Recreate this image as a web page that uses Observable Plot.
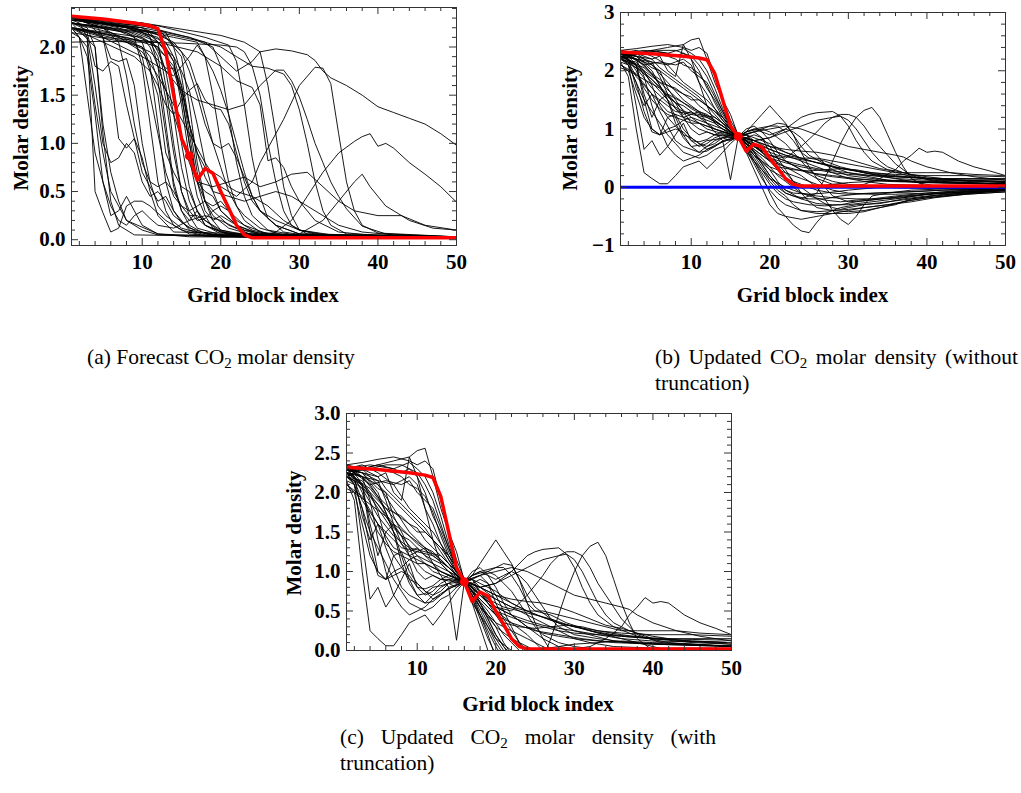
<!DOCTYPE html>
<html>
<head>
<meta charset="utf-8">
<script src="https://cdn.jsdelivr.net/npm/d3@7"></script>
<script src="https://cdn.jsdelivr.net/npm/@observablehq/plot@0.6"></script>
<style>
  body { margin: 0; background: #fff; }
  #root { position: relative; width: 1021px; height: 793px; background: #fff; overflow: hidden; }
  .lbl { position: absolute; font-family: "Liberation Serif", "Times New Roman", serif; font-weight: bold; font-size: 21px; white-space: nowrap; transform: translate(-50%, -50%); color: #000; }
  .ylbl { transform: translate(-50%, -50%) rotate(-90deg); }
  .cap { position: absolute; font-family: "Liberation Serif", "Times New Roman", serif; font-size: 21.5px; line-height: 26px; white-space: nowrap; color: #000; }
  .cap sub { font-size: 0.7em; line-height: 0; vertical-align: -0.25em; }
  .just { display: flex; justify-content: space-between; }
</style>
</head>
<body>
<div id="root"></div>
<script>
// ---------------- data ----------------
const xMajor = [10, 20, 30, 40, 50];
const xMinor = [2, 4, 6, 8, 12, 14, 16, 18, 22, 24, 26, 28, 32, 34, 36, 38, 42, 44, 46, 48];
const aYTicks = [0, 0.5, 1, 1.5, 2];
const bYTicks = [-1, 0, 1, 2, 3];
const cYTicks = [0, 0.5, 1, 1.5, 2, 2.5, 3];

// true (reference) CO2 molar density profile, red
const trueProfile = [[1,2.32],[5,2.29],[9,2.25],[11,2.22],[12,2.19],[13,1.95],[14,1.5],[15,1.05],[16,0.87],[17,0.62],[18,0.74],[19,0.69],[20,0.5],[21,0.33],[22,0.15],[23,0.05],[24,0.02],[30,0.02],[40,0.02],[50,0.02]];
// observation point
const observation = [16, 0.87];

// forecast ensemble members (panel a)
const forecastMembers = [
  [[1,2.28],[2,2.25],[3,2.1],[4,0.5],[5,0.28],[6,0.08],[7,0.12],[8,0.35],[9,0.4],[10,0.4],[11,0.35],[13,0.2],[15,0.1],[18,0.04],[30,0.02],[50,0.02]],
  [[1,2.2],[2,2.1],[3,1.5],[4,0.9],[5,0.6],[6,0.25],[7,0.3],[8,0.45],[9,0.3],[10,0.15],[12,0.06],[16,0.03],[50,0.02]],
  [[1,2.25],[3,2.2],[4,2.0],[5,1.2],[6,0.7],[7,0.4],[8,0.2],[10,0.1],[12,0.05],[50,0.02]],
  [[1,2.3],[3,2.25],[5,2.1],[6,1.7],[7,1.05],[8,0.95],[9,1.05],[10,0.85],[11,0.5],[12,0.25],[14,0.08],[50,0.02]],
  [[1,2.3],[4,2.25],[5,2.1],[6,1.88],[7,1.85],[8,1.88],[9,1.6],[10,1.0],[11,0.6],[12,0.35],[13,0.25],[15,0.12],[18,0.05],[50,0.02]],
  [[1,2.2],[3,2.15],[4,1.8],[5,1.75],[6,1.85],[7,1.8],[8,1.4],[9,1.05],[10,0.7],[11,0.55],[12,0.4],[13,0.45],[14,0.3],[16,0.1],[20,0.03],[50,0.02]],
  [[1,2.15],[2,2.1],[3,1.9],[4,1.3],[5,0.6],[6,0.35],[7,0.2],[8,0.15],[9,0.25],[10,0.3],[11,0.22],[12,0.15],[14,0.12],[16,0.2],[17,0.3],[18,0.2],[20,0.08],[23,0.03],[50,0.02]],
  [[1,2.2],[3,2.1],[4,1.6],[5,1.0],[6,0.8],[7,0.85],[8,1.0],[9,0.9],[10,0.6],[11,0.45],[12,0.5],[13,0.4],[14,0.25],[16,0.12],[19,0.05],[50,0.02]],
  [[1,2.3],[5,2.2],[7,2.05],[8,1.7],[9,1.2],[10,0.8],[11,0.6],[12,0.55],[13,0.6],[14,0.5],[15,0.35],[16,0.25],[17,0.25],[18,0.2],[20,0.1],[24,0.04],[50,0.02]],
  [[1,2.3],[6,2.2],[9,2.1],[10,1.8],[11,1.2],[12,0.6],[13,0.3],[14,0.15],[16,0.06],[20,0.03],[50,0.02]],
  [[1,2.25],[8,2.15],[10,2.05],[11,1.8],[12,1.2],[13,0.6],[14,0.3],[15,0.18],[17,0.08],[22,0.03],[50,0.02]],
  [[1,2.2],[7,2.1],[10,2.0],[11,1.75],[12,1.5],[13,0.9],[14,0.7],[15,0.55],[16,0.5],[17,0.3],[18,0.15],[20,0.06],[50,0.02]],
  [[1,2.3],[9,2.2],[11,2.1],[12,1.8],[13,1.2],[14,0.6],[15,0.3],[16,0.15],[18,0.06],[24,0.03],[50,0.02]],
  [[1,2.28],[10,2.2],[12,2.05],[13,1.6],[14,1.0],[15,0.5],[16,0.25],[17,0.12],[20,0.05],[50,0.02]],
  [[1,2.2],[10,2.1],[12,2.0],[13,1.75],[14,1.3],[15,0.75],[16,0.4],[17,0.22],[18,0.15],[20,0.08],[25,0.03],[50,0.02]],
  [[1,2.25],[11,2.15],[13,1.95],[14,1.6],[15,1.0],[16,0.55],[17,0.3],[18,0.15],[21,0.05],[50,0.02]],
  [[1,2.3],[12,2.15],[14,1.85],[15,1.4],[16,0.85],[17,0.45],[18,0.25],[19,0.12],[22,0.04],[50,0.02]],
  [[1,2.2],[11,2.05],[13,1.9],[14,1.75],[15,1.5],[16,1.0],[17,0.6],[18,0.4],[19,0.35],[20,0.4],[21,0.3],[23,0.15],[26,0.06],[50,0.02]],
  [[1,2.3],[12,2.2],[15,1.9],[16,1.4],[17,0.8],[18,0.4],[19,0.2],[20,0.1],[23,0.04],[50,0.02]],
  [[1,2.15],[8,2.05],[11,1.95],[13,1.78],[14,1.78],[15,1.6],[16,1.1],[17,0.6],[18,0.3],[19,0.2],[20,0.25],[21,0.2],[23,0.1],[27,0.04],[50,0.02]],
  [[1,2.25],[8,2.15],[11,2.05],[12,1.9],[13,1.45],[14,0.9],[15,0.5],[16,0.3],[17,0.35],[18,0.4],[19,0.3],[21,0.15],[24,0.05],[50,0.02]],
  [[1,2.2],[6,2.1],[10,2.0],[11,1.9],[12,1.65],[13,1.1],[14,0.55],[15,0.3],[16,0.2],[18,0.25],[20,0.2],[22,0.12],[25,0.05],[50,0.02]],
  [[1,2.32],[10,2.25],[13,2.15],[14,2.0],[15,1.7],[16,1.2],[17,0.7],[18,0.4],[19,0.25],[21,0.12],[24,0.05],[50,0.02]],
  [[1,2.25],[9,2.15],[12,2.05],[14,1.9],[15,1.75],[16,1.55],[17,1.2],[18,0.8],[19,0.5],[20,0.3],[22,0.15],[25,0.06],[50,0.02]],
  [[1,2.25],[6,2.15],[9,2.05],[10,1.9],[11,1.5],[12,1.1],[13,0.7],[14,0.45],[15,0.35],[16,0.3],[17,0.2],[18,0.22],[19,0.3],[20,0.35],[21,0.3],[22,0.2],[24,0.1],[27,0.04],[50,0.02]],
  [[1,2.3],[7,2.2],[10,2.1],[11,2.0],[12,1.8],[13,1.55],[14,1.3],[15,1.05],[16,0.8],[17,0.6],[18,0.5],[19,0.45],[20,0.3],[22,0.15],[25,0.05],[50,0.02]],
  [[1,2.3],[10,2.2],[14,2.05],[16,1.85],[17,1.6],[18,1.3],[19,1.0],[20,0.75],[21,0.5],[22,0.35],[23,0.25],[25,0.12],[28,0.05],[50,0.02]],
  [[1,2.2],[8,2.1],[12,2.0],[14,1.8],[15,1.55],[16,1.2],[17,0.9],[18,0.75],[19,0.7],[20,0.65],[21,0.55],[22,0.5],[24,0.45],[26,0.35],[28,0.2],[30,0.1],[34,0.04],[50,0.02]],
  [[1,2.28],[9,2.2],[13,2.1],[15,1.95],[16,1.75],[17,1.5],[18,1.2],[19,1.0],[20,0.95],[21,1.0],[22,0.85],[23,0.65],[24,0.45],[25,0.3],[27,0.15],[30,0.06],[50,0.02]],
  [[1,2.25],[10,2.15],[13,2.05],[14,1.9],[15,1.6],[16,1.2],[17,0.9],[18,0.65],[19,0.5],[21,0.45],[23,0.4],[25,0.45],[27,0.5],[29,0.45],[31,0.35],[33,0.25],[35,0.15],[38,0.08],[42,0.05],[50,0.03]],
  [[1,2.2],[5,2.05],[9,1.9],[11,1.75],[12,1.6],[13,1.4],[14,1.3],[15,1.45],[16,1.55],[17,1.62],[18,1.45],[19,1.37],[20,1.35],[21,1.2],[22,0.9],[23,0.6],[24,0.4],[25,0.3],[27,0.2],[30,0.1],[35,0.04],[50,0.02]],
  [[1,2.3],[8,2.2],[11,2.1],[12,1.95],[13,1.75],[14,1.7],[15,1.8],[16,1.9],[17,2.02],[18,1.9],[19,1.75],[20,1.55],[21,1.3],[22,1.0],[23,0.7],[24,0.45],[25,0.3],[27,0.15],[30,0.06],[50,0.02]],
  [[1,2.3],[8,2.2],[14,2.1],[17,2.05],[18,1.9],[19,1.5],[20,1.0],[21,0.6],[22,0.35],[23,0.2],[25,0.08],[30,0.03],[50,0.02]],
  [[1,2.28],[10,2.2],[16,2.1],[19,2.0],[20,1.8],[21,1.3],[22,0.8],[23,0.45],[24,0.25],[26,0.1],[30,0.04],[50,0.02]],
  [[1,2.3],[12,2.22],[18,2.1],[21,2.02],[22,1.85],[23,1.4],[24,0.85],[25,0.45],[26,0.22],[28,0.08],[32,0.03],[50,0.02]],
  [[1,2.05],[5,2.06],[10,2.05],[15,2.04],[20,2.02],[22,2.0],[23,1.95],[24,1.8],[25,1.5],[26,1.0],[27,0.6],[28,0.3],[29,0.15],[31,0.06],[50,0.03]],
  [[1,2.3],[10,2.25],[20,2.12],[23,2.05],[25,1.95],[26,1.6],[27,1.1],[28,0.55],[29,0.25],[30,0.1],[33,0.04],[50,0.02]],
  [[1,2.2],[5,2.1],[12,2.05],[17,1.95],[20,1.8],[22,1.65],[24,1.58],[25,1.4],[26,0.82],[27,0.85],[28,0.75],[29,0.55],[30,0.4],[32,0.2],[35,0.08],[40,0.04],[50,0.02]],
  [[1,2.25],[5,2.1],[10,1.9],[13,1.75],[15,1.55],[17,1.45],[19,1.4],[21,1.35],[23,1.4],[25,1.6],[27,1.76],[28,1.76],[29,1.65],[30,1.48],[31,1.25],[32,1.0],[33,0.8],[34,0.6],[35,0.45],[36,0.32],[38,0.14],[41,0.06],[50,0.03]],
  [[1,2.3],[5,2.2],[10,1.95],[12,1.7],[14,1.4],[16,1.1],[18,0.8],[20,0.55],[22,0.45],[24,0.6],[25,0.8],[27,1.1],[28,1.25],[30,1.6],[32,1.79],[33,1.78],[34,1.62],[35,1.1],[36,0.6],[37,0.3],[38,0.15],[40,0.07],[50,0.03]],
  [[1,2.3],[8,2.2],[14,2.12],[18,2.05],[20,1.9],[22,1.75],[24,1.85],[25,1.95],[27,1.98],[29,1.96],[31,1.92],[32,1.86],[33,1.75],[34,1.68],[36,1.6],[38,1.5],[40,1.38],[42,1.32],[44,1.26],[46,1.2],[48,1.1],[50,0.98]],
  [[1,2.28],[10,2.22],[16,2.1],[20,2.0],[22,1.9],[24,1.8],[26,1.78],[28,1.72],[29,1.6],[30,1.35],[31,1.0],[32,0.6],[33,0.3],[34,0.15],[36,0.06],[50,0.03]],
  [[1,2.2],[3,2.0],[4,1.4],[5,0.9],[6,0.5],[8,0.2],[12,0.06],[20,0.03],[25,0.04],[27,0.08],[29,0.2],[31,0.45],[33,0.7],[35,0.9],[37,1.02],[38,1.07],[39,1.1],[40,0.97],[41,1.0],[42,0.95],[44,0.8],[46,0.68],[48,0.55],[50,0.39]],
  [[1,2.25],[4,2.0],[5,1.1],[6,0.4],[7,0.15],[9,0.05],[25,0.03],[30,0.06],[33,0.2],[35,0.4],[37,0.6],[38,0.68],[39,0.55],[41,0.35],[44,0.2],[47,0.12],[50,0.1]],
  [[1,2.3],[8,2.2],[12,2.1],[14,1.85],[15,1.5],[16,1.0],[17,0.6],[19,0.55],[21,0.6],[23,0.65],[25,0.55],[27,0.6],[29,0.68],[31,0.7],[33,0.55],[35,0.4],[37,0.3],[40,0.25],[43,0.25],[46,0.15],[50,0.1]]
];

// updated ensemble members: left part (x = 1..16) and right part (x = 16..50)
const updatedLeft = [
  [[1,2.3],[3,2.3],[5,2.35],[7,2.4],[9,2.45],[10,2.53],[11,2.56],[12,2.2],[13,1.8],[14,1.5],[15,1.25],[16,0.88]],
  [[1,2.35],[3,2.38],[5,2.42],[7,2.45],[9,2.4],[10,2.35],[11,2.4],[12,2.3],[13,1.9],[14,1.5],[15,1.15],[16,0.9]],
  [[1,2.3],[4,2.35],[7,2.3],[9,2.38],[10,2.3],[11,2.2],[12,2.0],[13,1.7],[14,1.35],[15,1.05],[16,0.88]],
  [[1,2.2],[2,2.25],[4,2.1],[6,2.15],[8,2.1],[9,2.15],[10,2.0],[12,1.8],[13,1.55],[14,1.3],[15,1.05],[16,0.87]],
  [[1,2.3],[2,2.2],[4,2.0],[6,1.8],[8,1.55],[10,1.35],[12,1.2],[14,1.05],[16,0.87]],
  [[1,2.25],[3,2.1],[5,1.85],[7,1.6],[9,1.45],[11,1.3],[13,1.15],[15,0.95],[16,0.87]],
  [[1,2.2],[3,2.05],[5,1.7],[7,1.45],[9,1.3],[11,1.25],[13,1.2],[15,1.0],[16,0.88]],
  [[1,2.15],[2,1.9],[3,1.0],[4,0.25],[5,0.15],[6,0.06],[7,0.06],[8,0.2],[9,0.35],[10,0.4],[11,0.45],[12,0.32],[13,0.45],[14,0.6],[15,0.75],[16,0.87]],
  [[1,2.25],[2,2.1],[3,1.4],[4,0.65],[5,0.8],[6,0.55],[7,0.7],[8,0.9],[9,1.1],[10,0.8],[11,0.7],[12,0.75],[13,0.85],[14,0.9],[15,0.85],[16,0.87]],
  [[1,2.3],[3,2.2],[4,1.9],[5,1.4],[6,1.0],[7,0.7],[8,0.55],[9,0.45],[10,0.5],[11,0.55],[12,0.65],[13,0.7],[14,0.78],[16,0.87]],
  [[1,2.25],[3,2.2],[5,2.1],[7,1.8],[9,1.5],[11,1.3],[12,1.1],[13,0.95],[14,0.8],[15,0.13],[16,0.87]],
  [[1,2.1],[2,2.0],[3,1.6],[4,1.2],[5,1.0],[6,0.9],[7,1.2],[8,1.25],[9,1.0],[10,0.85],[11,0.75],[12,0.7],[13,0.8],[14,0.85],[16,0.87]],
  [[1,2.3],[3,2.25],[5,2.0],[7,1.5],[8,1.2],[9,0.9],[10,0.7],[11,0.6],[12,0.62],[13,0.7],[14,0.8],[16,0.87]],
  [[1,2.2],[3,2.3],[5,2.2],[6,2.25],[7,2.0],[8,1.9],[9,2.45],[10,2.2],[11,1.8],[12,1.4],[13,1.1],[14,1.0],[15,0.95],[16,0.87]],
  [[1,2.35],[3,2.2],[5,1.95],[7,1.75],[9,1.6],[10,1.55],[11,1.4],[12,1.3],[13,1.2],[14,1.1],[15,0.95],[16,0.87]],
  [[1,2.2],[2,2.15],[3,1.9],[4,1.75],[5,1.6],[6,1.5],[7,1.4],[8,1.3],[9,1.28],[10,1.25],[12,1.2],[14,1.05],[16,0.87]],
  [[1,2.28],[3,2.25],[5,2.2],[6,2.05],[7,1.95],[8,1.85],[9,1.75],[10,1.65],[11,1.55],[12,1.4],[13,1.25],[14,1.1],[15,1.0],[16,0.88]],
  [[1,2.25],[2,2.2],[3,1.7],[4,1.4],[5,1.6],[6,1.3],[7,1.05],[8,0.8],[9,0.7],[10,0.65],[11,0.6],[12,0.7],[13,0.75],[14,0.85],[15,0.8],[16,0.87]],
  [[1,2.3],[2,2.25],[3,2.1],[4,1.5],[5,1.0],[6,0.9],[7,0.95],[8,1.0],[9,0.95],[10,0.8],[11,0.78],[12,0.82],[13,0.9],[14,0.95],[16,0.87]],
  [[1,2.05],[2,2.0],[4,1.85],[6,1.7],[8,1.45],[10,1.2],[12,1.0],[14,0.92],[16,0.87]],
  [[1,2.3],[3,2.28],[5,2.3],[7,2.25],[8,2.2],[9,2.1],[10,2.05],[11,1.95],[12,1.75],[13,1.45],[14,1.2],[15,1.0],[16,0.88]],
  [[1,2.25],[3,2.2],[5,2.15],[7,2.1],[8,2.15],[9,2.2],[10,2.1],[11,1.8],[12,1.6],[13,1.35],[14,1.15],[15,0.98],[16,0.87]],
  [[1,2.3],[2,2.2],[4,1.95],[6,1.65],[8,1.35],[9,1.25],[10,1.3],[11,1.2],[12,1.1],[13,1.0],[14,0.95],[16,0.87]],
  [[1,2.2],[3,2.1],[4,1.6],[5,1.2],[6,1.5],[7,1.6],[8,1.45],[9,1.2],[10,1.0],[11,0.9],[12,0.95],[13,0.9],[14,0.88],[16,0.87]],
  [[1,2.35],[3,2.3],[5,2.1],[7,1.9],[9,1.7],[11,1.5],[13,1.3],[15,1.0],[16,0.87]],
  [[1,2.25],[4,2.05],[6,1.8],[8,1.7],[10,1.5],[11,1.5],[12,1.4],[13,1.3],[14,1.2],[15,1.05],[16,0.87]],
  [[1,2.1],[3,1.95],[5,1.6],[7,1.3],[9,1.2],[11,1.1],[13,1.0],[15,0.92],[16,0.87]],
  [[1,2.3],[3,2.25],[5,2.05],[6,2.0],[7,1.7],[8,1.5],[9,1.3],[10,1.1],[11,1.0],[12,0.95],[13,0.9],[14,0.9],[16,0.87]],
  [[1,2.2],[3,2.15],[4,2.0],[5,1.75],[6,1.4],[7,1.2],[8,1.05],[9,0.9],[10,0.85],[11,0.75],[12,0.65],[13,0.72],[14,0.78],[16,0.87]],
  [[1,2.3],[2,2.28],[4,2.3],[6,2.35],[8,2.35],[10,2.25],[11,2.1],[12,1.9],[13,1.6],[14,1.3],[15,1.05],[16,0.88]],
  [[1,2.25],[2,2.2],[3,2.0],[4,1.7],[5,1.5],[6,1.35],[7,1.25],[8,1.2],[9,1.15],[10,1.1],[11,1.1],[12,1.05],[13,1.0],[14,0.95],[16,0.87]],
  [[1,2.3],[3,2.25],[5,2.15],[6,1.9],[7,1.6],[8,1.35],[9,1.2],[10,1.25],[11,1.3],[12,1.25],[13,1.15],[14,1.05],[15,0.95],[16,0.87]],
  [[1,2.15],[2,2.1],[3,1.8],[4,1.5],[5,1.3],[6,1.1],[7,0.9],[8,0.75],[9,0.6],[10,0.55],[11,0.5],[12,0.55],[13,0.65],[14,0.7],[15,0.8],[16,0.87]],
  [[1,2.3],[3,2.35],[5,2.25],[7,2.1],[8,1.95],[9,1.8],[10,1.7],[11,1.6],[12,1.5],[13,1.35],[14,1.2],[15,1.05],[16,0.87]],
  [[1,2.2],[2,2.15],[3,2.05],[4,1.95],[5,1.85],[6,1.7],[7,1.55],[8,1.45],[9,1.4],[10,1.3],[11,1.2],[12,1.15],[13,1.1],[14,1.0],[15,0.93],[16,0.87]],
  [[1,2.3],[2,2.25],[3,2.2],[4,2.1],[5,1.95],[6,1.75],[7,1.5],[8,1.1],[9,0.85],[10,0.7],[11,0.72],[12,0.8],[13,0.82],[14,0.85],[15,0.9],[16,0.87]],
  [[1,2.25],[3,2.3],[5,2.35],[7,2.3],[8,2.25],[9,2.3],[10,2.2],[11,2.0],[12,1.7],[13,1.5],[14,1.25],[15,1.05],[16,0.88]],
  [[1,2.2],[2,2.1],[3,1.8],[4,1.3],[5,0.95],[6,0.9],[7,1.0],[8,1.05],[9,1.15],[10,1.2],[11,1.15],[12,1.1],[13,1.05],[14,1.0],[15,0.9],[16,0.87]]
];
const updatedRight = [
  [[16,0.87],[17,0.95],[18,1.1],[19,1.25],[20,1.4],[21,1.25],[22,1.1],[23,0.9],[24,0.7],[25,0.55],[27,0.4],[30,0.25],[35,0.12],[40,0.08],[50,0.05]],
  [[16,0.87],[17,0.9],[18,0.8],[20,0.85],[22,1.0],[24,1.2],[25,1.25],[26,1.28],[28,1.3],[29,1.22],[30,1.05],[31,0.8],[32,0.6],[33,0.45],[35,0.3],[38,0.18],[42,0.1],[50,0.05]],
  [[16,0.87],[18,0.75],[20,0.55],[22,0.5],[24,0.7],[26,0.95],[27,1.1],[28,1.2],[29,1.25],[30,1.25],[31,1.2],[32,1.05],[33,0.85],[34,0.7],[35,0.55],[36,0.4],[38,0.2],[41,0.1],[50,0.05]],
  [[16,0.87],[17,0.75],[18,0.6],[19,0.4],[20,0.2],[21,0.05],[22,-0.1],[24,-0.2],[26,-0.1],[27,0.15],[28,0.45],[29,0.75],[30,1.0],[31,1.2],[32,1.32],[33,1.37],[34,1.2],[35,0.9],[36,0.6],[37,0.35],[38,0.15],[40,0.0],[43,-0.03],[50,-0.02]],
  [[16,0.87],[17,0.8],[18,0.7],[20,0.55],[22,0.45],[24,0.3],[26,0.15],[28,0.05],[30,0.02],[32,0.05],[34,0.15],[36,0.3],[37,0.45],[38,0.55],[39,0.67],[40,0.6],[41,0.62],[42,0.6],[44,0.45],[46,0.35],[48,0.28],[50,0.2]],
  [[16,0.87],[17,0.7],[18,0.45],[19,0.2],[20,-0.1],[21,-0.35],[22,-0.5],[23,-0.65],[24,-0.75],[25,-0.78],[26,-0.6],[27,-0.45],[29,-0.35],[31,-0.3],[34,-0.28],[37,-0.2],[40,-0.15],[45,-0.1],[50,-0.05]],
  [[16,0.87],[18,0.7],[20,0.5],[22,0.35],[24,0.2],[26,0.0],[27,-0.2],[28,-0.4],[29,-0.55],[30,-0.64],[31,-0.5],[32,-0.3],[33,-0.15],[35,-0.1],[38,-0.05],[42,-0.03],[50,-0.02]],
  [[16,0.87],[17,0.6],[18,0.3],[19,0.0],[20,-0.3],[21,-0.45],[22,-0.5],[24,-0.55],[26,-0.5],[28,-0.45],[30,-0.45],[32,-0.42],[34,-0.35],[36,-0.3],[38,-0.2],[41,-0.15],[45,-0.1],[50,-0.05]],
  [[16,0.87],[17,0.65],[18,0.4],[19,0.15],[20,-0.05],[21,-0.2],[22,-0.3],[24,-0.4],[26,-0.42],[28,-0.4],[30,-0.38],[32,-0.35],[35,-0.3],[38,-0.25],[41,-0.18],[45,-0.12],[50,-0.08]],
  [[16,0.87],[18,0.6],[20,0.3],[21,0.1],[22,-0.05],[24,-0.2],[26,-0.28],[28,-0.3],[30,-0.3],[33,-0.25],[36,-0.2],[40,-0.12],[45,-0.08],[50,-0.05]],
  [[16,0.87],[17,0.8],[18,0.7],[19,0.6],[20,0.5],[22,0.42],[24,0.35],[26,0.3],[28,0.25],[30,0.22],[33,0.2],[36,0.18],[40,0.15],[45,0.14],[50,0.13]],
  [[16,0.87],[18,0.65],[20,0.45],[22,0.35],[25,0.25],[28,0.2],[31,0.15],[35,0.1],[40,0.08],[50,0.05]],
  [[16,0.87],[17,0.9],[18,0.85],[20,0.75],[22,0.6],[24,0.5],[26,0.42],[28,0.35],[30,0.3],[33,0.25],[36,0.22],[40,0.2],[45,0.2],[50,0.18]],
  [[16,0.87],[17,0.95],[18,1.0],[20,1.05],[21,1.1],[22,1.08],[23,0.9],[24,0.6],[25,0.35],[26,0.15],[27,0.0],[28,-0.15],[30,-0.25],[33,-0.22],[37,-0.15],[42,-0.1],[50,-0.05]],
  [[16,0.87],[17,0.9],[18,0.95],[19,1.0],[20,1.05],[21,1.05],[22,0.95],[23,0.8],[24,0.6],[25,0.5],[27,0.45],[29,0.35],[32,0.25],[36,0.15],[40,0.12],[50,0.1]],
  [[16,0.87],[18,0.8],[20,0.85],[22,0.95],[24,1.05],[26,1.15],[28,1.2],[29,1.22],[30,1.15],[31,1.0],[32,0.8],[33,0.6],[34,0.45],[35,0.35],[37,0.25],[40,0.15],[45,0.1],[50,0.08]],
  [[16,0.87],[18,0.95],[20,1.0],[22,1.05],[24,1.0],[26,0.9],[28,0.8],[30,0.7],[32,0.65],[34,0.6],[36,0.55],[37,0.52],[38,0.45],[40,0.35],[43,0.25],[46,0.18],[50,0.12]],
  [[16,0.87],[17,0.6],[18,0.45],[19,0.3],[20,0.15],[22,0.0],[24,-0.1],[26,-0.15],[28,-0.18],[31,-0.2],[34,-0.2],[37,-0.18],[40,-0.12],[45,-0.08],[50,-0.04]],
  [[16,0.87],[17,0.75],[18,0.65],[19,0.55],[20,0.45],[21,0.3],[22,0.15],[23,0.05],[24,0.0],[26,0.02],[28,0.05],[30,0.08],[33,0.1],[36,0.12],[40,0.1],[45,0.08],[50,0.05]],
  [[16,0.87],[17,0.8],[19,0.65],[21,0.55],[23,0.5],[25,0.45],[27,0.4],[29,0.33],[31,0.28],[33,0.22],[36,0.18],[40,0.15],[45,0.12],[50,0.1]],
  [[16,0.87],[17,0.85],[18,0.9],[19,0.85],[20,0.7],[21,0.5],[22,0.3],[23,0.1],[24,-0.1],[25,-0.25],[26,-0.35],[28,-0.4],[30,-0.42],[32,-0.4],[34,-0.35],[37,-0.25],[40,-0.18],[45,-0.12],[50,-0.08]],
  [[16,0.87],[17,0.95],[18,1.0],[19,0.95],[20,0.8],[21,0.6],[22,0.45],[24,0.3],[26,0.22],[28,0.18],[30,0.15],[33,0.12],[37,0.1],[42,0.08],[50,0.06]],
  [[16,0.87],[18,0.7],[20,0.55],[22,0.45],[24,0.38],[26,0.32],[28,0.28],[30,0.25],[33,0.2],[36,0.15],[38,0.1],[40,0.05],[42,0.0],[45,-0.02],[50,0.0]],
  [[16,0.87],[17,0.7],[18,0.5],[19,0.3],[20,0.1],[21,-0.05],[22,-0.15],[23,-0.3],[24,-0.4],[26,-0.45],[28,-0.45],[30,-0.4],[32,-0.35],[35,-0.3],[38,-0.22],[42,-0.15],[46,-0.1],[50,-0.06]],
  [[16,0.87],[18,0.8],[20,0.65],[22,0.55],[24,0.45],[26,0.35],[28,0.25],[30,0.15],[32,0.1],[35,0.05],[40,0.03],[50,0.02]],
  [[16,0.87],[17,0.75],[18,0.55],[19,0.35],[20,0.15],[21,0.0],[22,-0.1],[23,-0.15],[25,-0.2],[27,-0.2],[29,-0.15],[31,-0.12],[34,-0.1],[38,-0.08],[42,-0.05],[50,-0.03]],
  [[16,0.87],[17,1.0],[18,1.05],[19,0.95],[20,0.9],[21,0.95],[22,1.0],[23,0.95],[24,0.85],[25,0.7],[26,0.55],[27,0.4],[28,0.3],[30,0.2],[33,0.15],[37,0.1],[42,0.08],[50,0.06]],
  [[16,0.87],[17,0.85],[18,0.75],[20,0.65],[22,0.55],[24,0.5],[26,0.5],[28,0.45],[30,0.4],[32,0.35],[34,0.3],[36,0.25],[38,0.25],[40,0.25],[43,0.25],[46,0.22],[50,0.2]],
  [[16,0.87],[17,0.7],[18,0.55],[20,0.3],[22,0.15],[24,0.05],[26,-0.05],[28,-0.1],[30,-0.12],[33,-0.1],[37,-0.08],[42,-0.05],[50,-0.03]],
  [[16,0.87],[18,0.95],[19,0.85],[20,0.6],[21,0.4],[22,0.25],[23,0.1],[24,0.0],[25,-0.1],[26,-0.2],[27,-0.28],[28,-0.35],[29,-0.38],[30,-0.35],[32,-0.3],[35,-0.25],[38,-0.2],[42,-0.12],[50,-0.06]],
  [[16,0.87],[17,0.7],[18,0.55],[19,0.45],[20,0.35],[22,0.25],[24,0.15],[26,0.05],[28,-0.05],[30,-0.1],[33,-0.12],[36,-0.12],[40,-0.1],[45,-0.06],[50,-0.03]],
  [[16,0.87],[17,0.9],[18,0.75],[19,0.6],[20,0.45],[21,0.35],[23,0.3],[25,0.28],[27,0.3],[29,0.32],[31,0.3],[33,0.25],[36,0.2],[40,0.15],[45,0.12],[50,0.1]],
  [[16,0.87],[17,0.65],[18,0.45],[19,0.25],[20,0.05],[21,-0.1],[22,-0.2],[23,-0.25],[25,-0.3],[27,-0.32],[29,-0.3],[31,-0.25],[34,-0.2],[38,-0.15],[42,-0.1],[46,-0.06],[50,-0.04]],
  [[16,0.87],[17,0.85],[18,0.8],[19,0.75],[20,0.7],[21,0.65],[22,0.6],[24,0.5],[26,0.42],[28,0.35],[30,0.3],[32,0.25],[35,0.2],[38,0.17],[42,0.15],[46,0.15],[50,0.15]],
  [[16,0.87],[17,0.8],[18,0.6],[19,0.4],[20,0.2],[21,0.05],[22,-0.05],[23,-0.1],[25,-0.12],[27,-0.1],[30,-0.05],[34,0.0],[38,0.02],[44,0.03],[50,0.03]],
  [[16,0.87],[17,0.95],[18,0.98],[19,1.0],[20,0.95],[21,0.85],[22,0.75],[23,0.6],[24,0.45],[25,0.3],[26,0.2],[28,0.1],[30,0.05],[34,0.0],[40,-0.02],[50,-0.02]],
  [[16,0.87],[18,0.8],[20,0.7],[22,0.65],[24,0.62],[26,0.6],[28,0.55],[30,0.48],[32,0.4],[34,0.32],[36,0.28],[38,0.22],[40,0.18],[44,0.12],[50,0.08]],
  [[16,0.87],[17,0.75],[18,0.62],[19,0.5],[20,0.35],[21,0.2],[22,0.1],[23,0.0],[24,-0.1],[25,-0.15],[27,-0.22],[29,-0.25],[31,-0.22],[33,-0.2],[36,-0.15],[40,-0.1],[45,-0.05],[50,-0.02]]
];

// ---------------- build ----------------
const updatedMembers = updatedLeft.map((L, i) => L.concat(updatedRight[i].slice(1)));
const toRows = members => members.flatMap((m, i) => m.map(([x, y]) => ({id: i, x, y})));
const trueRows = trueProfile.map(([x, y]) => ({x, y}));
const obsRows = [{x: observation[0], y: observation[1]}];

const root = document.getElementById("root");

function panel({rows, yDomain, yTicks, yMinor, yFmt, W, H, ml, mr, mt, mb, blue, xPad}) {
  const fw = W - ml - mr, fh = H - mt - mb;
  const tickCol = "#333";
  const marks = [
    Plot.line(rows, {x: "x", y: "y", z: "id", stroke: "#000", strokeWidth: 0.9, clip: true}),
  ];
  if (blue) marks.push(Plot.ruleY([0], {stroke: "#0000ff", strokeWidth: 3}));
  marks.push(
    Plot.line(trueRows, {x: "x", y: "y", stroke: "#ff0000", strokeWidth: 3.5, clip: true}),
    Plot.dot(obsRows, {x: "x", y: "y", r: 4.5, fill: "#ff0000", stroke: "none"}),
    // inward ticks on all four sides
    Plot.tickX(xMajor, {x: d => d, insetTop: fh - 7, stroke: tickCol}),
    Plot.tickX(xMajor, {x: d => d, insetBottom: fh - 7, stroke: tickCol}),
    Plot.tickX(xMinor, {x: d => d, insetTop: fh - 4, stroke: tickCol}),
    Plot.tickX(xMinor, {x: d => d, insetBottom: fh - 4, stroke: tickCol}),
    Plot.tickY(yTicks, {y: d => d, insetRight: fw - 7, stroke: tickCol}),
    Plot.tickY(yTicks, {y: d => d, insetLeft: fw - 7, stroke: tickCol}),
    Plot.tickY(yMinor, {y: d => d, insetRight: fw - 4, stroke: tickCol}),
    Plot.tickY(yMinor, {y: d => d, insetLeft: fw - 4, stroke: tickCol}),
    Plot.frame({stroke: tickCol, strokeWidth: 1}),
    Plot.axisX(xMajor, {tickSize: 0, tickPadding: xPad, label: null, tickFormat: d => String(d)}),
    Plot.axisY(yTicks, {tickSize: 0, tickPadding: 6, label: null, tickFormat: yFmt})
  );
  return Plot.plot({
    width: W, height: H,
    marginLeft: ml, marginRight: mr, marginTop: mt, marginBottom: mb,
    x: {domain: [1, 50]},
    y: {domain: yDomain},
    style: {fontFamily: "'Liberation Serif', 'Times New Roman', serif", fontSize: "21px", fontWeight: "bold", background: "transparent", overflow: "visible", maxWidth: "none"},
    marks
  });
}

function place(svg, left, top) {
  svg.style.position = "absolute";
  svg.style.left = left + "px";
  svg.style.top = top + "px";
  root.appendChild(svg);
}

const fmt1 = d => d.toFixed(1);
const fmtB = d => d < 0 ? "\u2212" + Math.abs(d) : String(d);

const aMinor = d3.range(0, 25).filter(i => i % 5 !== 0).map(i => i / 10);
const bMinor = d3.range(-5, 16).filter(i => i % 5 !== 0).map(i => i / 5);
const cMinor = d3.range(0, 31).filter(i => i % 5 !== 0).map(i => i / 10);

place(panel({rows: toRows(forecastMembers), yDomain: [-0.06, 2.41], yTicks: aYTicks, yMinor: aMinor, yFmt: fmt1,
  W: 470, H: 310, ml: 71, mr: 14, mt: 7, mb: 65, blue: false, xPad: 9}), 0, 0);
place(panel({rows: toRows(updatedMembers), yDomain: [-1, 3], yTicks: bYTicks, yMinor: bMinor, yFmt: fmtB,
  W: 521, H: 310, ml: 120, mr: 16, mt: 12, mb: 65, blue: true, xPad: 9}), 500, 0);
place(panel({rows: toRows(updatedMembers), yDomain: [0, 3], yTicks: cYTicks, yMinor: cMinor, yFmt: fmt1,
  W: 500, H: 330, ml: 96, mr: 19, mt: 23, mb: 70, blue: false, xPad: 10}), 250, 390);

// axis titles
function label(text, cx, cy, rotated) {
  const d = document.createElement("div");
  d.className = "lbl" + (rotated ? " ylbl" : "");
  d.textContent = text;
  d.style.left = cx + "px";
  d.style.top = cy + "px";
  root.appendChild(d);
}
label("Molar density", 20.5, 128, true);
label("Grid block index", 263, 295, false);
label("Molar density", 570, 128, true);
label("Grid block index", 812.5, 295, false);
label("Molar density", 294, 532.5, true);
label("Grid block index", 538, 704, false);

// captions
function caption(html, left, top, width) {
  const d = document.createElement("div");
  d.className = "cap" + (width ? " just" : "");
  d.style.left = left + "px";
  d.style.top = top + "px";
  if (width) d.style.width = width + "px";
  d.innerHTML = html;
  root.appendChild(d);
}
caption("(a) Forecast CO<sub>2</sub> molar density", 87, 344);
caption("<span>(b)</span><span>Updated</span><span>CO<sub>2</sub></span><span>molar</span><span>density</span><span>(without</span>", 655, 344, 363);
caption("truncation)", 655, 370);
caption("<span>(c)</span><span>Updated</span><span>CO<sub>2</sub></span><span>molar</span><span>density</span><span>(with</span>", 340, 724, 376);
caption("truncation)", 340, 750);
</script>
</body>
</html>
